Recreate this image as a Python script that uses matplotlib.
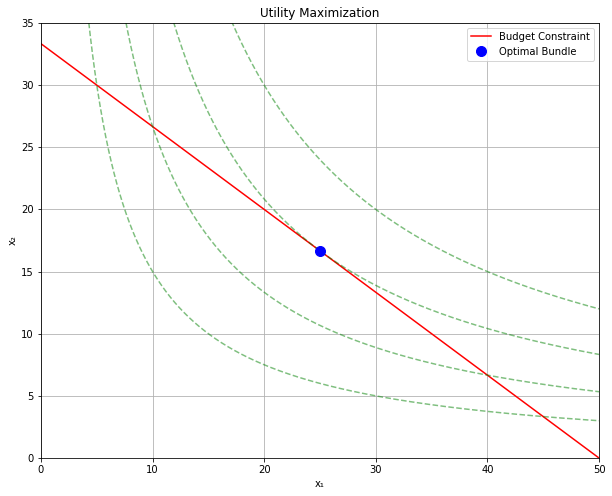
import numpy as np
import matplotlib
matplotlib.use("Agg")
import matplotlib.pyplot as plt

# budget: p1*x1 + p2*x2 = income
income = 100
p1 = 2
p2 = 3

# optimal bundle (Cobb-Douglas, equal weights)
x1_opt = 25
x2_opt = 100 / 6

# indifference curves x1*x2 = k, as fractions of the optimal utility
utility_scales = [0.6, 0.8, 1.0, 1.2]

fig = plt.figure(figsize=(612 / 72, 496 / 72), dpi=72)
ax = fig.add_axes([41 / 612, (496 - 458) / 496, 558 / 612, 435 / 496])

x1 = np.linspace(0, 50, 500)
ax.plot(x1, (income - p1 * x1) / p2, 'r', label='Budget Constraint')

u_opt = np.sqrt(x1_opt * x2_opt)
xs = np.linspace(0.5, 50, 1000)
for s in utility_scales:
    k = (s * u_opt) ** 2
    ax.plot(xs, k / xs, 'g--', alpha=0.5)

ax.plot(x1_opt, x2_opt, 'bo', markersize=10, label='Optimal Bundle')

ax.set_xlim(0, 50)
ax.set_ylim(0, 35)
ax.set_xlabel('x₁')
ax.set_ylabel('x₂')
ax.set_title('Utility Maximization')
ax.legend()
ax.grid(True)

fig.savefig('out.png', dpi=72)
